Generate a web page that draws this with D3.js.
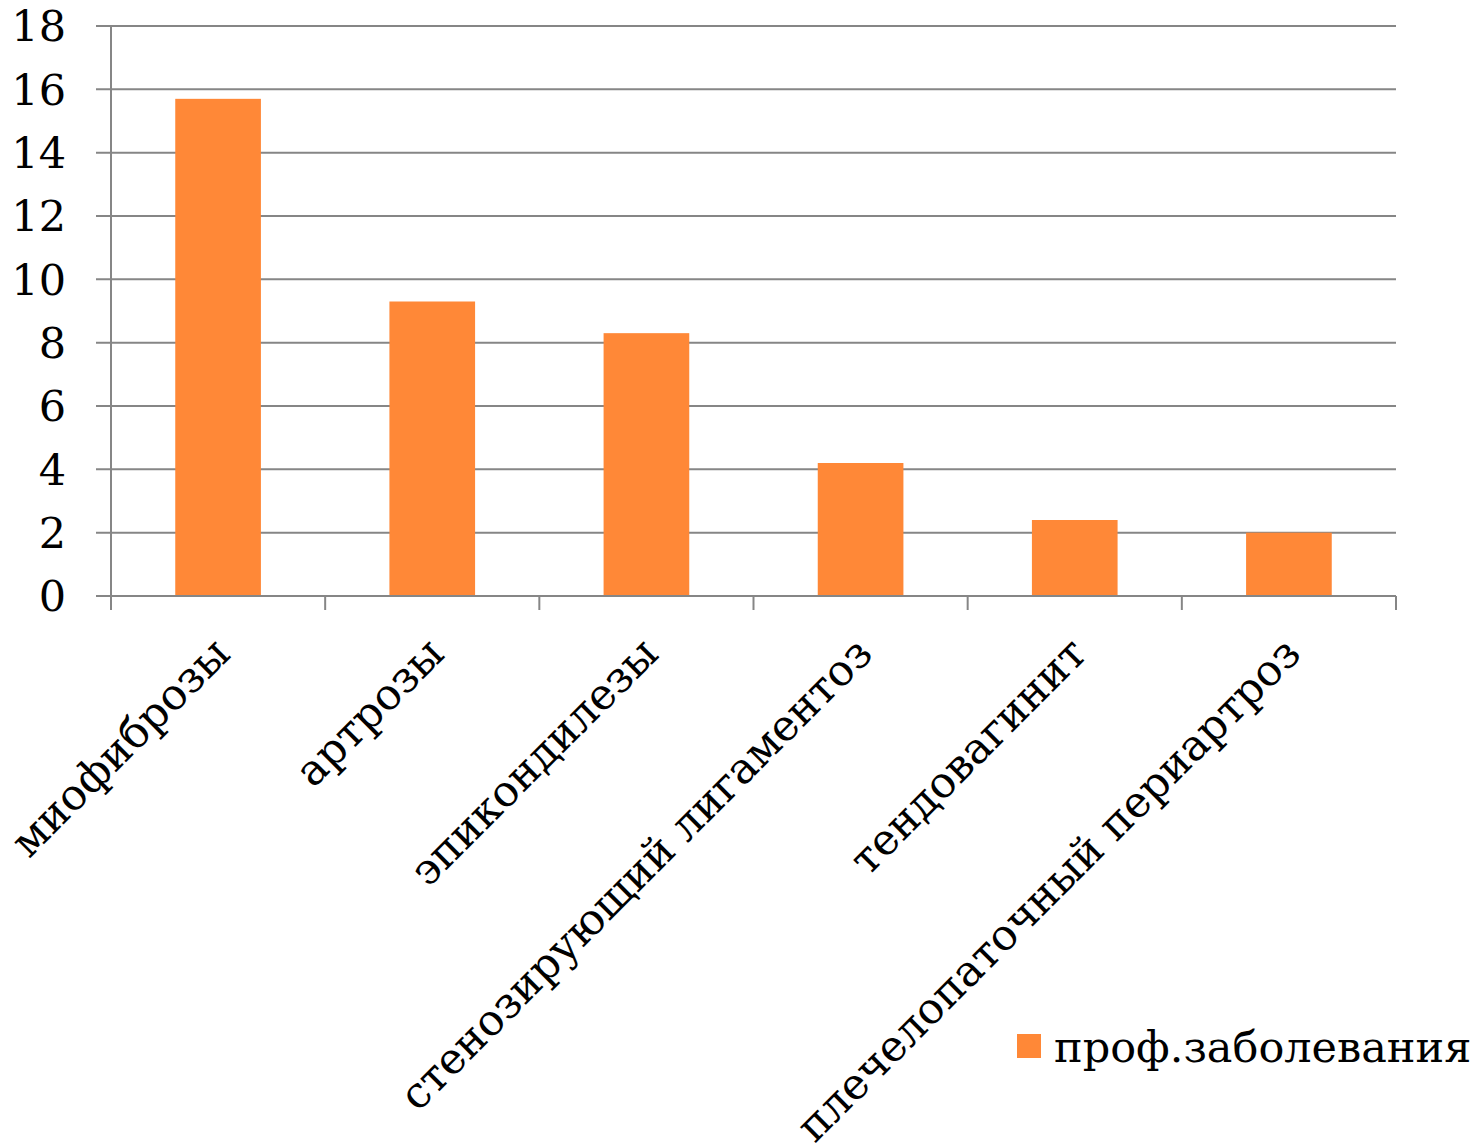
<!DOCTYPE html>
<html><head><meta charset="utf-8">
<script src="https://cdn.jsdelivr.net/npm/d3@7"></script>
<style>body{margin:0;background:#fff}</style>
</head><body>
<svg id="c" width="1480" height="1147"></svg>
<script>
const categories = ["миофиброзы","артрозы","эпикондилезы","стенозирующий лигаментоз","тендовагинит","плечелопаточный периартроз"];
const values = [15.7, 9.3, 8.3, 4.2, 2.4, 2.0];
const yTicks = [0,2,4,6,8,10,12,14,16,18];
const seriesName = "проф.заболевания";

const svg = d3.select("#c");
const font = "'DejaVu Serif', serif";
const fs = 43;
const m = {l:111, r:1396, t:26, b:596};
const x = d3.scaleBand().domain(categories).range([m.l, m.r]).paddingInner(0.6).paddingOuter(0.3);
const xb = d3.scaleBand().domain(categories).range([m.l, m.r]);
const y = d3.scaleLinear().domain([0,18]).range([m.b, m.t]);
const grey = "#868686";

// gridlines
svg.append("g").selectAll("line").data(yTicks).join("line")
  .attr("x1", m.l-15).attr("x2", m.r).attr("y1", d=>y(d)).attr("y2", d=>y(d))
  .attr("stroke", grey).attr("stroke-width", 2);
// y axis line
svg.append("line").attr("x1", m.l).attr("x2", m.l).attr("y1", m.t).attr("y2", m.b+14)
  .attr("stroke", grey).attr("stroke-width", 2);
// y labels
svg.append("g").selectAll("text").data(yTicks).join("text")
  .attr("x", 66).attr("y", d=>y(d)).attr("dy","0.36em").attr("text-anchor","end")
  .attr("font-family", font).attr("font-size", fs).attr("fill","#000").text(d=>d);

// bars
svg.append("g").selectAll("rect").data(values).join("rect")
  .attr("x", (d,i)=>x(categories[i])).attr("width", x.bandwidth())
  .attr("y", d=>y(d)).attr("height", d=>y(0)-y(d)).attr("fill", "#FF8837");

// x axis
svg.append("line").attr("x1", m.l).attr("x2", m.r).attr("y1", m.b).attr("y2", m.b)
  .attr("stroke", grey).attr("stroke-width", 2);
const bounds = categories.map(c=>xb(c)).concat([m.r]);
svg.append("g").selectAll("line").data(bounds).join("line")
  .attr("x1", d=>d).attr("x2", d=>d).attr("y1", m.b).attr("y2", m.b+14)
  .attr("stroke", grey).attr("stroke-width", 2);

// x labels
svg.append("g").selectAll("text").data(categories).join("text")
  .attr("transform", c=>`translate(${xb(c)+xb.bandwidth()/2+14},${m.b+60}) rotate(-45)`)
  .attr("text-anchor","end").attr("font-family", font).attr("font-size", fs)
  .attr("fill","#000").text(c=>c);

// legend
svg.append("rect").attr("x",1017).attr("y",1034).attr("width",24).attr("height",24).attr("fill","#FF8837");
svg.append("text").attr("x",1054).attr("y",1062).attr("font-family", font).attr("font-size",fs)
  .attr("fill","#000").text(seriesName);
</script>
</body></html>
